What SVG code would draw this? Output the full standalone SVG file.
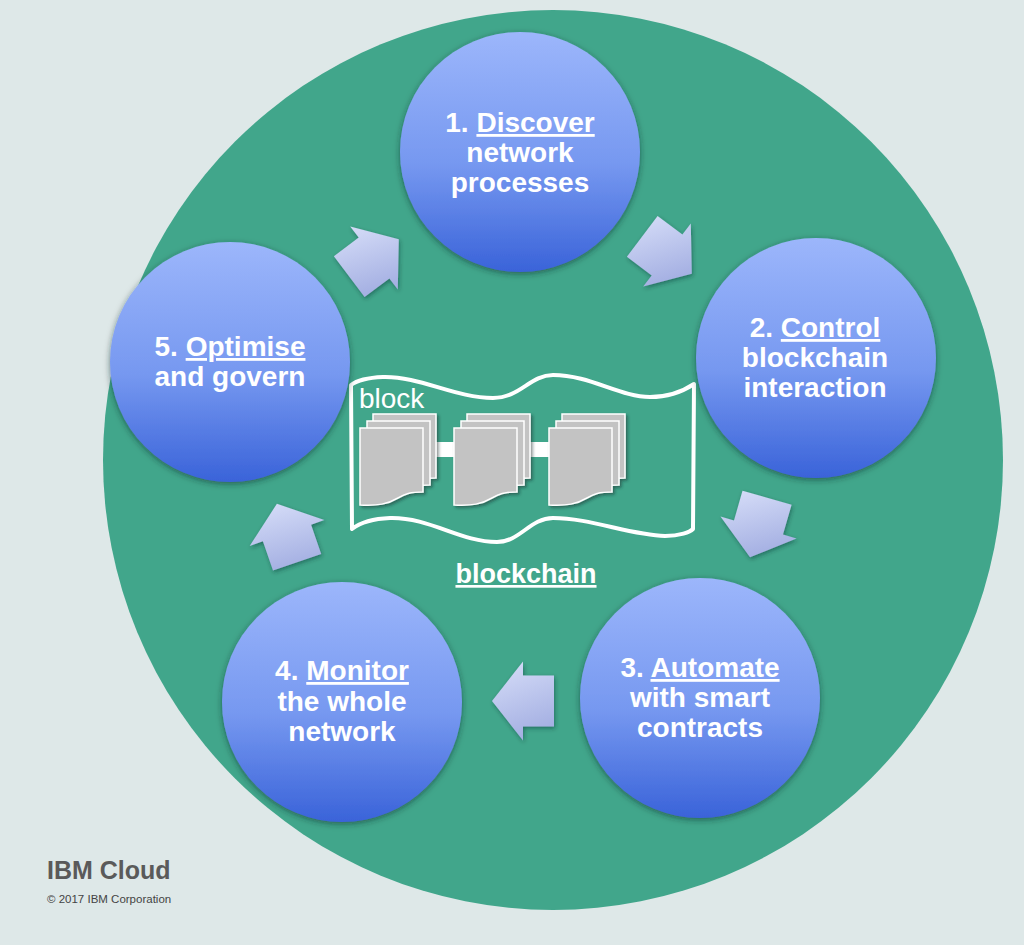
<svg xmlns="http://www.w3.org/2000/svg" width="1024" height="945" viewBox="0 0 1024 945">
<style>
.lbl{font-family:"Liberation Sans",Arial,Helvetica,sans-serif;font-weight:bold;font-size:28px;fill:#fff;text-anchor:middle}
.u{text-decoration:underline}
.node{fill:url(#gNode);filter:url(#shCircle)}
.arrow{fill:url(#gArrow);filter:url(#shArrow)}
.page{fill:#c3c3c3;stroke:#fff;stroke-width:1.5}
</style>
<defs>
<linearGradient id="gNode" x1="0" y1="0" x2="0" y2="1">
<stop offset="0" stop-color="#9cb6fb"/>
<stop offset="0.55" stop-color="#7698f0"/>
<stop offset="1" stop-color="#3a63d9"/>
</linearGradient>
<linearGradient id="gArrow" x1="0" y1="0" x2="0.3" y2="1">
<stop offset="0" stop-color="#d8dff9"/>
<stop offset="1" stop-color="#a6b1e3"/>
</linearGradient>
<filter id="shCircle" x="-20%" y="-20%" width="140%" height="140%">
<feDropShadow dx="0" dy="2" stdDeviation="3" flood-color="#0a2a2a" flood-opacity="0.55"/>
</filter>
<filter id="shArrow" x="-30%" y="-30%" width="160%" height="160%">
<feDropShadow dx="1" dy="2" stdDeviation="2" flood-color="#0a2a2a" flood-opacity="0.45"/>
</filter>
<filter id="shPage" x="-20%" y="-20%" width="150%" height="150%">
<feDropShadow dx="2" dy="2" stdDeviation="1.5" flood-color="#0a2a2a" flood-opacity="0.5"/>
</filter>
<path id="page" d="M0,0 H63 V64 C50,64 45,66 38,70 C28,76 18,78 0,77 Z"/>
<g id="stack" filter="url(#shPage)">
<use href="#page" class="page" x="13" y="-14"/>
<use href="#page" class="page" x="7" y="-7"/>
<use href="#page" class="page" x="0" y="0"/>
</g>
</defs>
<rect width="1024" height="945" fill="#dee8e8"/>
<circle id="ring" cx="553" cy="460" r="450" fill="#41a68b"/>

<g id="blockchain">
<path d="M351,385 Q360,378 383,377 C420,376 455,398 493,398 C520,398 530,375 553,375 C590,375 620,397 650,397 C670,397 685,390 694,384 L693,529 C690,532 680,536 665,536 C630,535 590,518 553,518 C530,518 520,542 497,542 C460,542 430,517 390,518 Q365,519 352,529 Z" fill="none" stroke="#fff" stroke-width="4" stroke-linejoin="round"/>
<text x="359" y="408" style="font-family:'Liberation Sans',Arial,sans-serif;font-size:28px;fill:#fff">block</text>
<rect x="434" y="442" width="22" height="15" fill="#fff"/>
<rect x="529" y="442" width="22" height="15" fill="#fff"/>
<use href="#stack" x="360" y="428"/>
<use href="#stack" x="454" y="428"/>
<use href="#stack" x="549" y="428"/>
<text x="526" y="583" class="lbl u" style="font-size:27px">blockchain</text>
</g>

<g id="connectors">
<polygon class="arrow" points="333.9,256.3 358.7,237.6 350.2,226.4 398.8,239.3 397.8,289.6 389.4,278.4 364.6,297"/>
<polygon class="arrow" points="657.6,216 682.4,234.6 690.8,223.4 691.8,273.7 643.2,286.6 651.7,275.4 626.9,256.7"/>
<polygon class="arrow" points="791.6,504.7 783,534.5 796.5,538.4 750,557.3 720.5,516.6 734,520.5 742.5,490.7"/>
<polygon class="arrow" points="554,726.5 523,726.5 523,740.5 492,701 523,661.5 523,675.5 554,675.5"/>
<polygon class="arrow" points="273,570.6 262.9,541.3 249.7,545.9 276.9,503.7 324.3,520.1 311.1,524.7 321.2,554"/>
</g>

<g id="node1">
<circle class="node" cx="520" cy="152" r="120"/>
<text class="lbl" x="520" y="132">1. <tspan class="u">Discover</tspan></text>
<text class="lbl" x="520" y="162">network</text>
<text class="lbl" x="520" y="192">processes</text>
</g>
<g id="node2">
<circle class="node" cx="816" cy="358" r="120"/>
<text class="lbl" x="815" y="337">2. <tspan class="u">Control</tspan></text>
<text class="lbl" x="815" y="367">blockchain</text>
<text class="lbl" x="815" y="397">interaction</text>
</g>
<g id="node3">
<circle class="node" cx="700" cy="698" r="120"/>
<text class="lbl" x="700" y="677">3. <tspan class="u">Automate</tspan></text>
<text class="lbl" x="700" y="707">with smart</text>
<text class="lbl" x="700" y="737">contracts</text>
</g>
<g id="node4">
<circle class="node" cx="342" cy="702" r="120"/>
<text class="lbl" x="342" y="680">4. <tspan class="u">Monitor</tspan></text>
<text class="lbl" x="342" y="711">the whole</text>
<text class="lbl" x="342" y="741">network</text>
</g>
<g id="node5">
<circle class="node" cx="230" cy="362" r="120"/>
<text class="lbl" x="230" y="356">5. <tspan class="u">Optimise</tspan></text>
<text class="lbl" x="230" y="386">and govern</text>
</g>

<g id="footer">
<text x="47" y="879" style="font-family:'Liberation Sans',Arial,sans-serif;font-weight:bold;font-size:25px;fill:#5a5a5a">IBM Cloud</text>
<text x="47" y="903" style="font-family:'Liberation Sans',Arial,sans-serif;font-size:11.5px;fill:#444">© 2017 IBM Corporation</text>
</g>
</svg>
